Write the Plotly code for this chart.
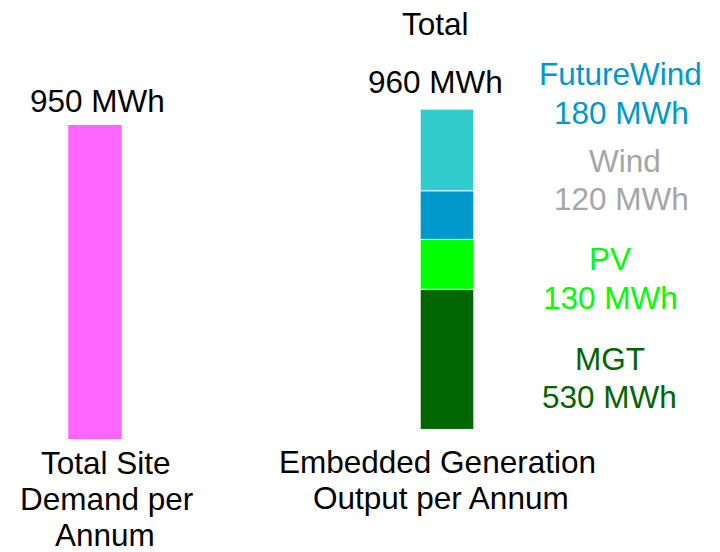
import plotly.graph_objects as go

# ---------------- data ----------------
bar_categories = ["Total Site Demand per Annum", "Embedded Generation Output per Annum"]

demand_value = 950          # MWh (left bar)
total_generation = 960      # MWh (label on right bar)

# generation components, bottom to top, with their labelled values
gen_names = ["MGT", "PV", "Wind", "FutureWind"]
gen_label_values = [530, 130, 120, 180]
# segment heights as they are drawn in the picture (read on the demand bar's scale)
gen_drawn_heights = [424, 151, 147, 247]
gen_base_offset = 29        # the generation stack starts slightly above the demand bar's base

# ---------------- styles ----------------
FONT = "Liberation Sans, Arial, sans-serif"
FS = 31.5
seg_colors = ["#006600", "#00FF00", "#0099CC", "#33CCCC"]
label_colors = {"MGT": "#006600", "PV": "#00FF00", "Wind": "#A6A6A6", "FutureWind": "#0099CC"}

W, H = 720, 552

fig = go.Figure()

fig.add_trace(go.Bar(
    x=[bar_categories[0]], y=[demand_value], base=[0],
    marker=dict(color="#FF66FF", line=dict(width=0)),
    width=0.152, showlegend=False, hoverinfo="skip",
))

running = gen_base_offset
for name, h, c in zip(gen_names, gen_drawn_heights, seg_colors):
    fig.add_trace(go.Bar(
        x=[bar_categories[1]], y=[h], base=[running],
        marker=dict(color=c, line=dict(width=0.8, color="white")),
        width=0.152, showlegend=False, hoverinfo="skip", name=name,
    ))
    running += h


def px_to_paper_y(py):
    return 1 - py / H


def px_to_paper_x(px):
    return px / W


def add_text(text, cx, cy, color="black"):
    fig.add_annotation(
        text=text, x=px_to_paper_x(cx), y=px_to_paper_y(cy),
        xref="paper", yref="paper", xanchor="center", yanchor="middle",
        showarrow=False, font=dict(family=FONT, size=FS, color=color),
    )


# top labels
add_text(f"{demand_value} MWh", 97.5, 101)
add_text("Total", 436, 24)
add_text(f"{total_generation} MWh", 435.5, 82)

# right-side component labels
label_pos = {
    "FutureWind": (620, 74, 621, 113),
    "Wind": (625, 161, 621, 199),
    "PV": (610, 259, 610, 298),
    "MGT": (610, 359, 609, 397),
}
for name, val in zip(gen_names, gen_label_values):
    x1, y1, x2, y2 = label_pos[name]
    add_text(name, x1, y1, label_colors[name])
    add_text(f"{val} MWh", x2, y2, label_colors[name])

# category labels under the bars
add_text("Total Site", 106, 463)
add_text("Demand per", 106, 499)
add_text("Annum", 105, 535)
add_text("Embedded Generation", 438, 462)
add_text("Output per Annum", 441, 498)

# axis mapping: category 0 centred at x=95px, category 1 at x=447px
px_per_cat = 447 - 95
x_lo = -95 / px_per_cat
x_hi = (W - 95) / px_per_cat
# value 0 at y=439px, 950 at y=125px
px_per_mwh = (439 - 125) / demand_value
y_hi = 439 / px_per_mwh
y_lo = -(H - 439) / px_per_mwh

fig.update_layout(
    width=W, height=H,
    margin=dict(l=0, r=0, t=0, b=0),
    paper_bgcolor="white", plot_bgcolor="white",
    barmode="overlay",
    xaxis=dict(type="category", range=[x_lo, x_hi], visible=False,
               categoryorder="array", categoryarray=bar_categories),
    yaxis=dict(range=[y_lo, y_hi], visible=False),
    showlegend=False,
)

fig.write_html("out.html")
